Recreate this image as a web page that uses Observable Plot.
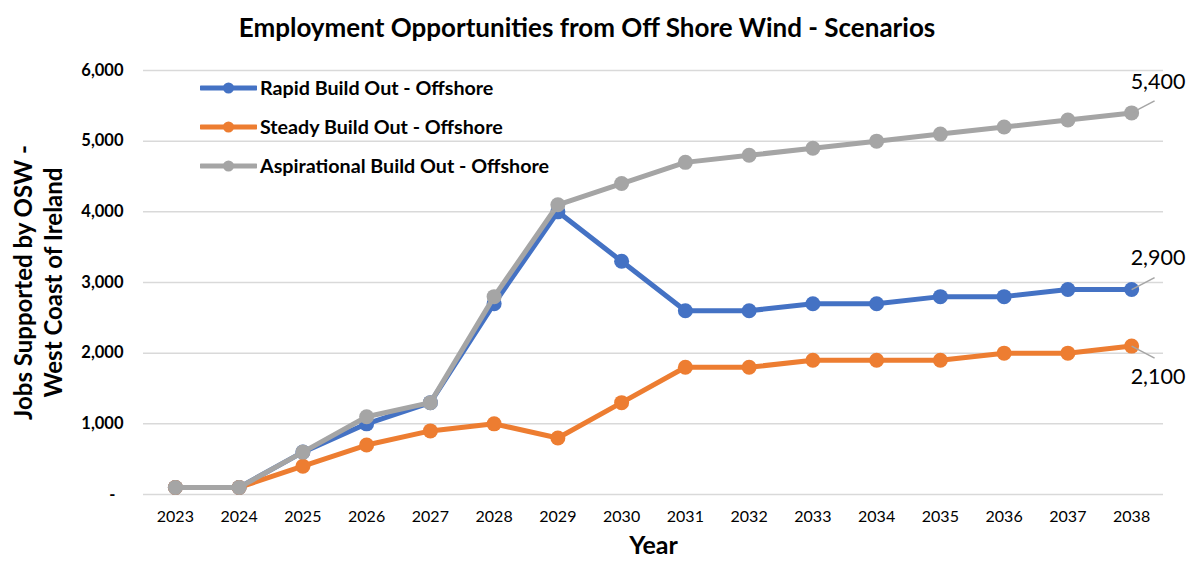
<!DOCTYPE html>
<html><head><meta charset="utf-8">
<script src="https://cdn.jsdelivr.net/npm/d3@7"></script>
<script src="https://cdn.jsdelivr.net/npm/@observablehq/plot@0.6"></script>
<style>
body{margin:0;background:#fff;font-family:Lato,"Open Sans",sans-serif;}
#wrap{position:relative;width:1192px;height:565px;overflow:hidden;}
#title{position:absolute;left:0;top:0;width:1174px;text-align:center;font-weight:bold;font-size:26px;line-height:54px;color:#000;}
#chart{position:absolute;left:0;top:50px;}
#legend{position:absolute;left:200px;top:68px;}
.item{display:flex;align-items:center;height:39px;font-weight:bold;font-size:19.7px;color:#000;}
.item svg{margin-right:3px;}
</style></head>
<body>
<div id="wrap">
  <div id="title">Employment Opportunities from Off Shore Wind - Scenarios</div>
  <div id="chart"></div>
  <div id="legend"></div>
</div>
<script>
const years = [2023,2024,2025,2026,2027,2028,2029,2030,2031,2032,2033,2034,2035,2036,2037,2038];
const rapid = [100,100,600,1000,1300,2700,4000,3300,2600,2600,2700,2700,2800,2800,2900,2900];
const steady = [100,100,400,700,900,1000,800,1300,1800,1800,1900,1900,1900,2000,2000,2100];
const aspirational = [100,100,600,1100,1300,2800,4100,4400,4700,4800,4900,5000,5100,5200,5300,5400];
const seriesNames = ["Rapid Build Out - Offshore","Steady Build Out - Offshore","Aspirational Build Out - Offshore"];
const seriesColors = ["#4472C4","#ED7D31","#A5A5A5"];
const yTicks = [0,1000,2000,3000,4000,5000,6000];
const yTitle = "Jobs Supported by OSW -\nWest Coast of Ireland";
const xTitle = "Year";

const allSeries = [rapid, steady, aspirational].map((vals, i) => ({
  name: seriesNames[i], color: seriesColors[i],
  data: years.map((yr, j) => ({year: yr, value: vals[j]}))
}));

// end-of-line data labels (series index, label side: -1 above, +1 below)
const labelSpec = [{s: 2, side: -1}, {s: 0, side: -1}, {s: 1, side: 1}];
const fmt = d3.format(",");

const marks = [
  Plot.gridY(yTicks, {stroke: "#d9d9d9", strokeOpacity: 1, strokeWidth: 1.5}),
  Plot.axisY(yTicks, {tickSize: 0, tickPadding: 20, fontSize: 16.5, fontWeight: "bold",
    tickFormat: d => d === 0 ? "-\u00a0\u00a0" : fmt(d), label: null}),
  Plot.axisX(years, {tickSize: 0, tickPadding: 16, fontSize: 16, tickFormat: d => String(d), label: null}),
  Plot.text([xTitle], {frameAnchor: "bottom", dy: 59, fontSize: 25, fontWeight: "bold", text: d => d}),
  Plot.text([yTitle], {frameAnchor: "left", textAnchor: "middle", dx: -106, rotate: -90, fontSize: 24,
    fontWeight: "bold", lineHeight: 1.25, text: d => d})
];
for (const s of allSeries) {
  marks.push(Plot.line(s.data, {x: "year", y: "value", stroke: s.color, strokeWidth: 5}));
  marks.push(Plot.dot(s.data, {x: "year", y: "value", fill: s.color, r: 7.5}));
}
for (const l of labelSpec) {
  const last = allSeries[l.s].data[allSeries[l.s].data.length - 1];
  marks.push(Plot.link([last], {x1: "year", y1: "value", x2: d => d.year + 0.36, y2: d => d.value - l.side * 170,
    stroke: "#A5A5A5", strokeWidth: 1.5}));
  marks.push(Plot.text([last], {x: "year", y: "value", text: d => fmt(d.value), textAnchor: "start",
    dx: -1, dy: l.side * 31, fontSize: 21.5, fill: "#000"}));
}

const chart = Plot.plot({
  width: 1192, height: 515,
  marginLeft: 143, marginRight: 29, marginTop: 20, marginBottom: 71,
  style: {fontFamily: "Lato, 'Open Sans', sans-serif", color: "#000", background: "#fff", overflow: "visible"},
  x: {type: "linear", domain: [2022.5, 2038.5]},
  y: {domain: [0, 6000]},
  marks
});
document.getElementById("chart").appendChild(chart);

const legend = document.getElementById("legend");
allSeries.forEach(s => {
  const div = document.createElement("div");
  div.className = "item";
  div.innerHTML = `<svg width="57" height="14"><line x1="1" x2="56" y1="7" y2="7" stroke="${s.color}" stroke-width="5" stroke-linecap="round"/><circle cx="28.5" cy="7" r="5.5" fill="${s.color}"/></svg><span>${s.name}</span>`;
  legend.appendChild(div);
});
</script>
</body></html>
